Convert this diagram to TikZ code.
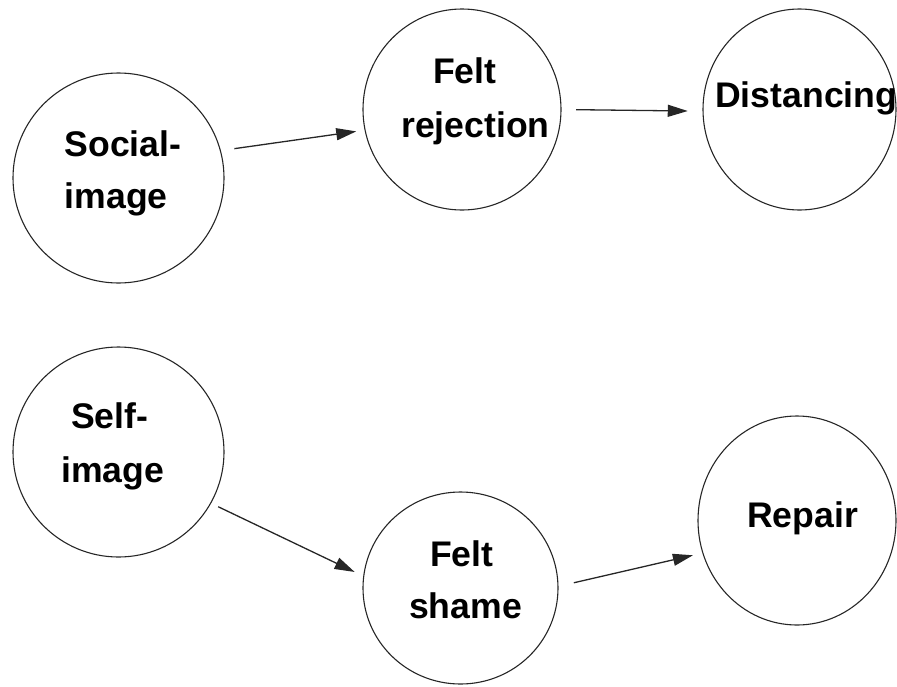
\documentclass[tikz,border=0pt]{standalone}
\usepackage{fontspec}
\setmainfont{Liberation Sans}
\usetikzlibrary{shapes.geometric,arrows.meta}
\tikzset{
  bubble/.style={ellipse,draw=black!85,line width=1.1pt,inner sep=0pt},
  lbl/.style={anchor=base west,inner sep=0pt,font=\fontsize{35.6}{42}\selectfont\bfseries},
  arr/.style={draw=black!85,line width=1.3pt,-{Triangle[length=20pt,width=12pt]}}
}
\begin{document}
\begin{tikzpicture}[x=1pt,y=-1pt]
\useasboundingbox (0,0) rectangle (897,686);
% circles
\node[bubble,minimum width=211pt,minimum height=210pt] (soc) at (118.5,178) {};
\node[bubble,minimum width=198pt,minimum height=201pt] (rej) at (462,109.5) {};
\node[bubble,minimum width=193pt,minimum height=201pt] (dist) at (799.5,109.5) {};
\node[bubble,minimum width=211pt,minimum height=210pt] (self) at (118.5,452) {};
\node[bubble,minimum width=195pt,minimum height=192pt] (shame) at (460.5,588) {};
\node[bubble,minimum width=198pt,minimum height=209pt] (rep) at (797,520.5) {};
% labels
\node[lbl] (t1) at (64.5,156) {Social-};
\node[lbl] (t2) at (64.5,208) {image};
\node[lbl] (t3) at (433,83) {Felt};
\node[lbl] (t4) at (401,137) {rejection};
\node[lbl] (t5) at (715,107) {Distancing};
\node[lbl] (t6) at (71,428) {Self-};
\node[lbl] (t7) at (61,482) {image};
\node[lbl] (t8) at (430,566) {Felt};
\node[lbl] (t9) at (409,618) {shame};
\node[lbl] (t10) at (747,527) {Repair};
% connectors
\draw[arr,shorten <=13.6pt,shorten >=8.4pt] (soc.15.8) -- (rej.192.9);
\draw[arr,shorten <=14.5pt,shorten >=14.7pt] (rej.0.3) -- (dist.181.2);
\draw[arr,shorten <=7.8pt,shorten >=9.5pt] (self.-29.1) -- (shame.173.8);
\draw[arr,shorten <=15.7pt,shorten >=9.7pt] (shame.1.8) -- (rep.199.6);
\end{tikzpicture}
\end{document}
